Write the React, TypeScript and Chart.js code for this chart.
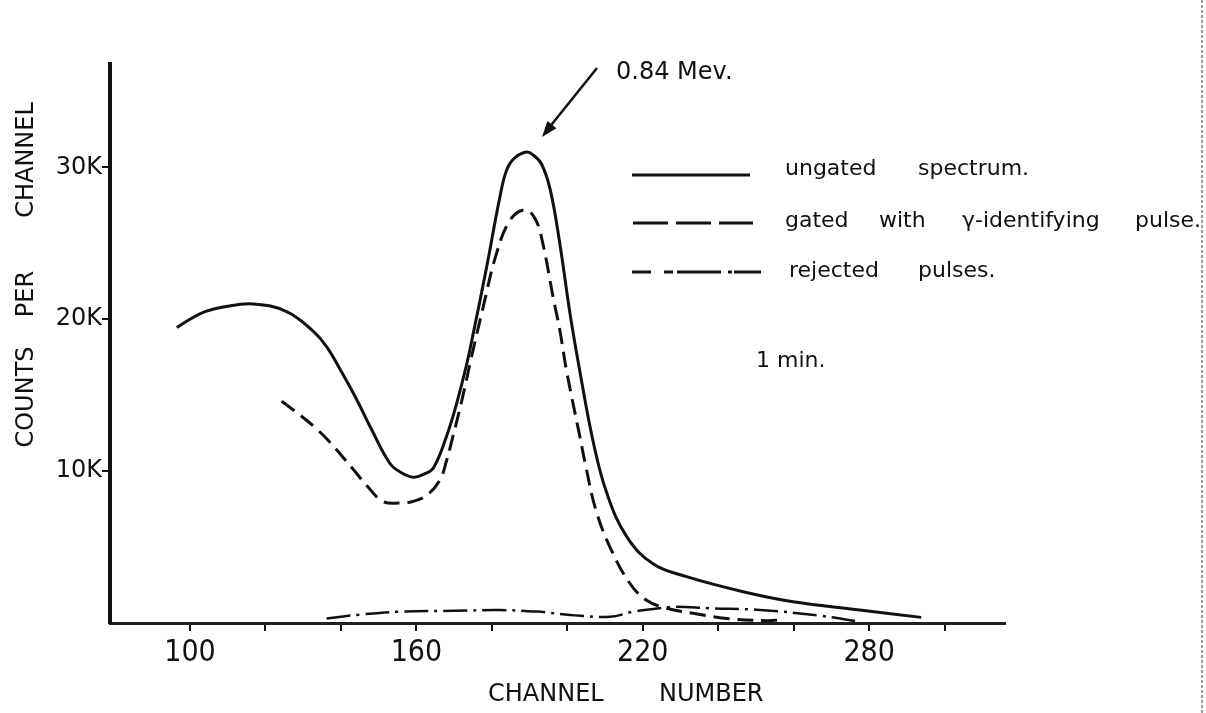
import React, { useEffect, useRef } from "react";
import { Chart, registerables } from "chart.js";

Chart.register(...registerables);

// ---- data (channel number, counts in thousands) ----
const ungatedChannel = [96.5, 100, 104, 108.8, 116.8, 125.6, 132.7, 136.2, 140, 144.2, 148, 153, 156, 159.2, 162, 164.5, 168, 170.5, 173.3, 175.1, 178.6, 182.1, 183.9, 186, 189.2, 191, 193.2, 195.5, 198, 200.7, 203.3, 206.8, 210.4, 215.7, 222.7, 231.6, 246.6, 259.8, 277.5, 293.8];
const ungatedCounts = [19.45, 20.0, 20.5, 20.8, 21.0, 20.5, 19.2, 18.2, 16.6, 14.7, 12.8, 10.5, 9.9, 9.6, 9.8, 10.2, 12.3, 14.3, 17.0, 19.1, 23.4, 28.0, 29.8, 30.6, 31.0, 30.8, 30.2, 28.5, 25.0, 20.4, 16.6, 12.0, 8.6, 5.7, 3.9, 3.05, 2.06, 1.4, 0.86, 0.37];

const gatedChannel = [124.3, 129.1, 133, 137.1, 143.3, 147, 151.2, 155.6, 159, 162.7, 166.2, 168, 169.7, 172, 174.6, 177.7, 181.2, 184.8, 188.7, 191.5, 193.5, 196.2, 198, 199.8, 203.3, 205, 207.5, 211.3, 216.6, 221, 226.3, 233.3, 242.2, 252.8, 256.7];
const gatedCounts = [14.6, 13.7, 12.9, 11.9, 10.1, 9.0, 8.0, 7.9, 8.0, 8.4, 9.4, 10.7, 12.3, 14.6, 17.5, 20.8, 24.3, 26.5, 27.2, 26.6, 25.0, 21.5, 19.3, 16.6, 12.3, 10.2, 7.5, 5.0, 2.6, 1.5, 0.97, 0.64, 0.3, 0.15, 0.2];

const rejectedChannel = [136.2, 145, 155.6, 170, 182, 192, 200.7, 211.3, 217.4, 224.5, 228.9, 237.7, 251, 266.9, 277];
const rejectedCounts = [0.3, 0.55, 0.75, 0.8, 0.85, 0.75, 0.53, 0.41, 0.74, 0.97, 1.07, 0.97, 0.86, 0.48, 0.1];

const xTickValues = [100, 120, 140, 160, 180, 200, 220, 240, 260, 280, 300];
const xLabelValues = [100, 160, 220, 280];
const yTickValues = [10000, 20000, 30000];

const seriesNames = ["ungated spectrum.", "gated with γ-identifying pulse.", "rejected pulses."];

const toPoints = (xs: number[], ys: number[]) => xs.map((x, i) => ({ x, y: ys[i] * 1000 }));

const INK = "#111";

const overlayPlugin = {
  id: "overlay",
  afterDraw(chart: any) {
    const ctx = chart.ctx as CanvasRenderingContext2D;
    ctx.save();
    ctx.fillStyle = INK;
    ctx.strokeStyle = INK;

    // right page border
    ctx.strokeStyle = "#9a9a9a";
    ctx.lineWidth = 2;
    ctx.setLineDash([3, 2]);
    ctx.beginPath();
    ctx.moveTo(1202, 0);
    ctx.lineTo(1202, 713);
    ctx.stroke();
    ctx.setLineDash([]);
    ctx.strokeStyle = INK;

    // y axis title (rotated words)
    ctx.font = '24px "DejaVu Sans", sans-serif';
    ctx.textAlign = "center";
    ctx.textBaseline = "middle";
    const yWords: [string, number][] = [["COUNTS", 397], ["PER", 294], ["CHANNEL", 160]];
    yWords.forEach(([w, cy]) => {
      ctx.save();
      ctx.translate(27, cy);
      ctx.rotate(-Math.PI / 2);
      ctx.fillText(w, 0, 0);
      ctx.restore();
    });

    // x axis title
    ctx.textAlign = "left";
    ctx.fillText("CHANNEL", 488, 695);
    ctx.fillText("NUMBER", 659, 695);

    // annotation
    ctx.font = '24px "DejaVu Sans", sans-serif';
    ctx.fillText("0.84 Mev.", 616, 73);
    ctx.lineWidth = 2.5;
    ctx.beginPath();
    ctx.moveTo(597, 68);
    ctx.lineTo(548, 129);
    ctx.stroke();
    const tipX = 542, tipY = 137;
    const ang = Math.atan2(tipY - 68, tipX - 597);
    ctx.beginPath();
    ctx.moveTo(tipX, tipY);
    ctx.lineTo(tipX - 17 * Math.cos(ang - 0.35), tipY - 17 * Math.sin(ang - 0.35));
    ctx.lineTo(tipX - 17 * Math.cos(ang + 0.35), tipY - 17 * Math.sin(ang + 0.35));
    ctx.closePath();
    ctx.fill();

    // legend samples
    ctx.lineWidth = 3;
    ctx.lineCap = "butt";
    ctx.beginPath();
    ctx.moveTo(632, 175);
    ctx.lineTo(750, 175);
    ctx.stroke();

    ctx.setLineDash([35, 8]);
    ctx.beginPath();
    ctx.moveTo(633, 223);
    ctx.lineTo(753, 223);
    ctx.stroke();

    ctx.setLineDash([19, 13, 9, 4, 44, 7, 4, 2, 27, 40]);
    ctx.beginPath();
    ctx.moveTo(632, 272);
    ctx.lineTo(761, 272);
    ctx.stroke();
    ctx.setLineDash([]);

    // legend text
    ctx.font = '22px "DejaVu Sans", sans-serif';
    ctx.textBaseline = "middle";
    const row1 = seriesNames[0].split(" ");
    ctx.fillText(row1[0], 785, 169);
    ctx.fillText(row1[1], 918, 169);
    const row2 = seriesNames[1].split(" ");
    ctx.fillText(row2[0], 785, 221);
    ctx.fillText(row2[1], 879, 221);
    ctx.fillText(row2[2], 962, 221);
    ctx.fillText(row2[3], 1135, 221);
    const row3 = seriesNames[2].split(" ");
    ctx.fillText(row3[0], 789, 271);
    ctx.fillText(row3[1], 918, 271);

    ctx.fillText("1 min.", 756, 361);
    ctx.restore();
  },
};

export default function App() {
  const ref = useRef<HTMLCanvasElement | null>(null);

  useEffect(() => {
    if (!ref.current) return;
    const chart = new Chart(ref.current, {
      type: "line",
      data: {
        datasets: [
          {
            label: seriesNames[0],
            data: toPoints(ungatedChannel, ungatedCounts),
            borderColor: INK,
            borderWidth: 3,
            pointRadius: 0,
            tension: 0.4,
            fill: false,
          },
          {
            label: seriesNames[1],
            data: toPoints(gatedChannel, gatedCounts),
            borderColor: INK,
            borderWidth: 3,
            borderDash: [16, 8],
            pointRadius: 0,
            tension: 0.4,
            fill: false,
          },
          {
            label: seriesNames[2],
            data: toPoints(rejectedChannel, rejectedCounts),
            borderColor: INK,
            borderWidth: 2.5,
            borderDash: [24, 6, 3, 6],
            pointRadius: 0,
            tension: 0.4,
            fill: false,
          },
        ],
      },
      options: {
        animation: false,
        responsive: false,
        devicePixelRatio: 1,
        layout: { padding: { left: 0, top: 64, right: 201, bottom: 0 } },
        plugins: { legend: { display: false }, tooltip: { enabled: false }, title: { display: false } },
        scales: {
          x: {
            type: "linear",
            min: 78.8,
            max: 316,
            afterBuildTicks: (scale: any) => {
              scale.ticks = xTickValues.map((v) => ({ value: v }));
            },
            afterFit: (scale: any) => {
              scale.height = 90;
            },
            border: { display: true, color: "#222", width: 3 },
            grid: { drawOnChartArea: false, drawTicks: true, tickLength: 8, color: INK, lineWidth: 2 },
            ticks: {
              autoSkip: false,
              maxRotation: 0,
              padding: 4,
              color: INK,
              font: { family: '"Liberation Sans Narrow", "DejaVu Sans Condensed", "Arial Narrow", sans-serif', size: 30 },
              callback: (v: any) => (xLabelValues.includes(Number(v)) ? String(v) : ""),
            },
          },
          y: {
            type: "linear",
            min: 0,
            max: 36800,
            afterBuildTicks: (scale: any) => {
              scale.ticks = yTickValues.map((v) => ({ value: v }));
            },
            afterFit: (scale: any) => {
              scale.width = 110;
            },
            border: { display: true, color: INK, width: 4 },
            grid: { drawOnChartArea: false, drawTicks: true, tickLength: 8, color: INK, lineWidth: 2 },
            ticks: {
              padding: 0,
              color: INK,
              font: { family: '"DejaVu Sans", sans-serif', size: 24 },
              callback: (v: any) => `${Number(v) / 1000}K`,
            },
          },
        },
      },
      plugins: [overlayPlugin],
    } as any);
    return () => chart.destroy();
  }, []);

  return (
    <div style={{ position: "fixed", left: 0, top: 0, width: 1206, height: 713, background: "#fff" }}>
      <canvas ref={ref} width={1206} height={713} style={{ display: "block", width: 1206, height: 713 }} />
    </div>
  );
}
